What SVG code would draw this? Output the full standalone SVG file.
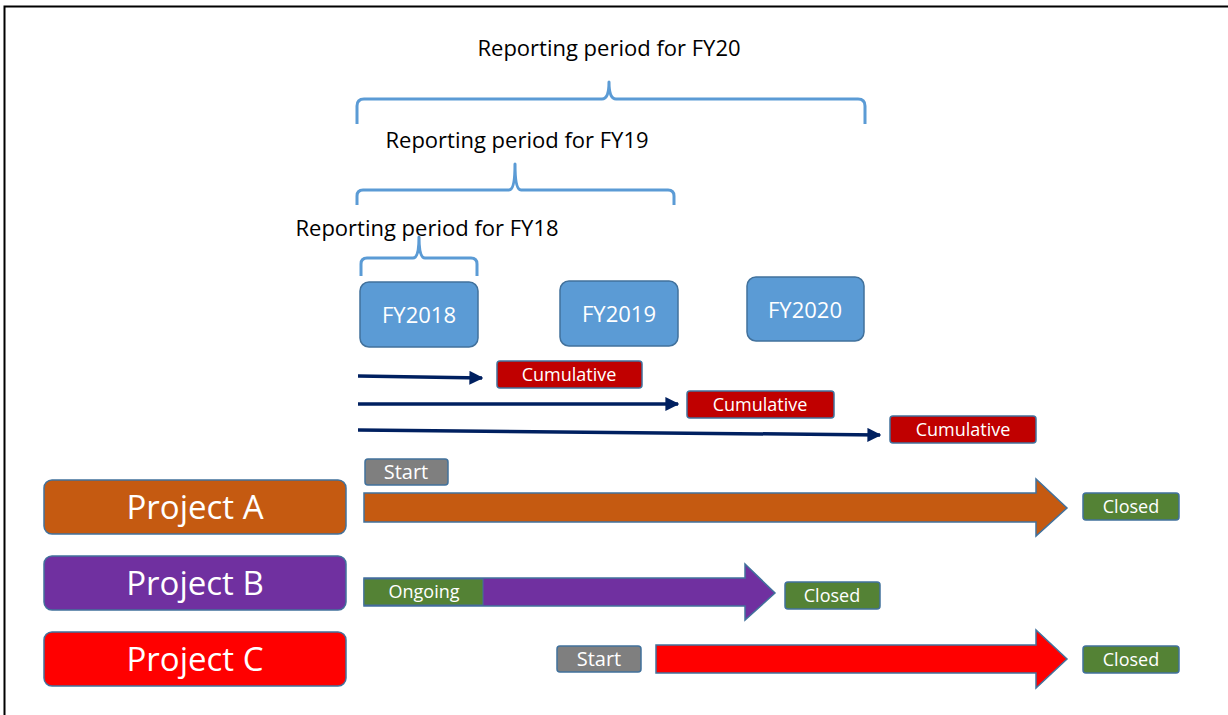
<svg xmlns="http://www.w3.org/2000/svg" width="1228" height="715" viewBox="0 0 1228 715">
<defs>
<style>
.t{font-family:"Open Sans","Liberation Sans",sans-serif;}
.hdr{font-size:22px;fill:#000;}
.brace{fill:none;stroke:#5B9BD5;stroke-width:3;stroke-linejoin:round;}
.fy{fill:#5B9BD5;stroke:#41719C;stroke-width:1.5;}
.fyt{font-size:22px;fill:#fff;}
.cum{fill:#C00000;stroke:#41719C;stroke-width:1.5;}
.lbl{font-size:18px;fill:#fff;}
.st{font-size:20px;fill:#fff;}
.grey{fill:#7F7F7F;stroke:#41719C;stroke-width:1.5;}
.green{fill:#548235;stroke:#41719C;stroke-width:1.5;}
.proj{stroke:#41719C;stroke-width:1.5;}
.pt{font-size:33px;fill:#fff;}
.nav{stroke:#002060;stroke-width:3.5;fill:none;}
.bigarrow{stroke:#41719C;stroke-width:1.5;}
</style>
<marker id="ah" viewBox="0 0 10 10" refX="9" refY="5" markerWidth="4" markerHeight="4" orient="auto" markerUnits="strokeWidth">
<path d="M0,0 L10,5 L0,10 Z" fill="#002060"/>
</marker>
</defs>
<path d="M4.5,715 V6.5 H1228" fill="none" stroke="#000" stroke-width="2"/>

<g id="fy20-period">
<text class="t hdr" x="609" y="56" text-anchor="middle">Reporting period for FY20</text>
<path class="brace" d="M357,124 V106 Q357,99 364,99 H602 Q609,99 609,82 Q609,99 616,99 H858 Q865,99 865,106 V124"/>
</g>
<g id="fy19-period">
<text class="t hdr" x="517" y="148" text-anchor="middle">Reporting period for FY19</text>
<path class="brace" d="M357,205 V196 Q357,190 363,190 H509 Q515,190 515,164 Q515,190 521,190 H668 Q674,190 674,196 V205"/>
</g>
<g id="fy18-period">
<text class="t hdr" x="427" y="236" text-anchor="middle">Reporting period for FY18</text>
<path class="brace" d="M361,276 V264 Q361,258 367,258 H413 Q419,258 419,237 Q419,258 425,258 H471 Q477,258 477,264 V276"/>
</g>

<g id="fy2018"><rect class="fy" x="360" y="282" width="118" height="65" rx="9"/><text class="t fyt" x="419" y="323" text-anchor="middle">FY2018</text></g>
<g id="fy2019"><rect class="fy" x="560" y="281" width="118" height="65" rx="9"/><text class="t fyt" x="619" y="322" text-anchor="middle">FY2019</text></g>
<g id="fy2020"><rect class="fy" x="747" y="277" width="117" height="64" rx="9"/><text class="t fyt" x="805" y="318" text-anchor="middle">FY2020</text></g>

<g id="connectors">
<path class="nav" d="M358,376 L482,378" marker-end="url(#ah)"/>
<path class="nav" d="M358,404 L678,404" marker-end="url(#ah)"/>
<path class="nav" d="M358,430 L880,435" marker-end="url(#ah)"/>
</g>

<g id="cum1"><rect class="cum" x="497" y="361" width="145" height="27" rx="3"/><text class="t lbl" x="569" y="381" text-anchor="middle">Cumulative</text></g>
<g id="cum2"><rect class="cum" x="687" y="391" width="147" height="27" rx="3"/><text class="t lbl" x="760" y="411" text-anchor="middle">Cumulative</text></g>
<g id="cum3"><rect class="cum" x="890" y="416" width="146" height="27" rx="3"/><text class="t lbl" x="963" y="436" text-anchor="middle">Cumulative</text></g>

<g id="project-a"><rect class="proj" fill="#C55A11" x="44" y="480" width="302" height="54" rx="8"/><text class="t pt" x="195" y="519" text-anchor="middle">Project A</text></g>
<g id="project-b"><rect class="proj" fill="#7030A0" x="44" y="556" width="302" height="54" rx="8"/><text class="t pt" x="195" y="595" text-anchor="middle">Project B</text></g>
<g id="project-c"><rect class="proj" fill="#FF0000" x="44" y="632" width="302" height="54" rx="8"/><text class="t pt" x="195" y="671" text-anchor="middle">Project C</text></g>

<g id="start-a"><rect class="grey" x="365" y="459" width="83" height="26" rx="3"/><text class="t st" x="406" y="479" text-anchor="middle">Start</text></g>
<g id="arrow-a"><path class="bigarrow" fill="#C55A11" d="M364,493 H1036 V479 L1067,508 L1036,536 V522 H364 Z"/></g>
<g id="closed-a"><rect class="green" x="1083" y="493" width="96" height="27" rx="3"/><text class="t lbl" x="1131" y="513" text-anchor="middle">Closed</text></g>

<g id="arrow-b"><path class="bigarrow" fill="#7030A0" d="M364,578 H745 V564 L775,593 L745,620 V606 H364 Z"/></g>
<g id="ongoing-b"><rect fill="#548235" stroke="#41719C" stroke-width="1" x="364" y="579" width="119" height="26"/><text class="t lbl" x="424" y="598" text-anchor="middle">Ongoing</text></g>
<g id="closed-b"><rect class="green" x="785" y="582" width="95" height="27" rx="3"/><text class="t lbl" x="832" y="602" text-anchor="middle">Closed</text></g>

<g id="start-c"><rect class="grey" x="557" y="646" width="84" height="26" rx="3"/><text class="t st" x="599" y="666" text-anchor="middle">Start</text></g>
<g id="arrow-c"><path class="bigarrow" fill="#FF0000" d="M656,645 H1036 V630 L1067,659 L1036,688 V673 H656 Z"/></g>
<g id="closed-c"><rect class="green" x="1083" y="646" width="96" height="27" rx="3"/><text class="t lbl" x="1131" y="666" text-anchor="middle">Closed</text></g>
</svg>
